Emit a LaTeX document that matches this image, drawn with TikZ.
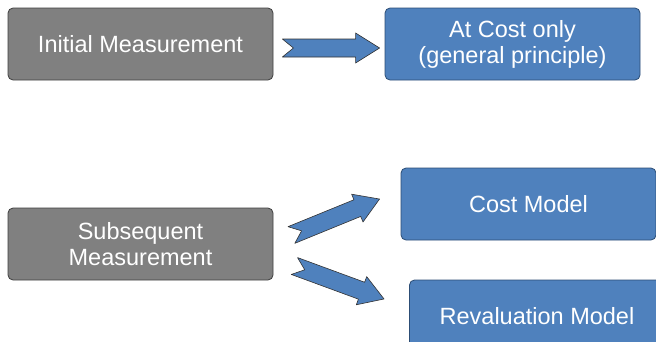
\documentclass[tikz,border=0pt]{standalone}
\usepackage{fontspec}
\setmainfont{Liberation Sans}
\usetikzlibrary{calc}

\definecolor{boxgray}{HTML}{808080}
\definecolor{boxblue}{HTML}{4F81BD}
\definecolor{edgegray}{HTML}{3F3F3F}
\definecolor{edgeblue}{HTML}{2C4D75}

% notched block arrow from #1 to #2
\newcommand{\fatarrow}[2]{%
  \draw[fat arrow] let \p1=($(#2)-(#1)$), \n1={atan2(\y1,\x1)}, \n2={veclen(\x1,\y1)} in
    [shift={(#1)},rotate=\n1]
    (0,9) -- (\n2-24,9) -- (\n2-24,15) -- (\n2,0) -- (\n2-24,-15) -- (\n2-24,-9)
    -- (0,-9) -- (11,0) -- cycle;}

\begin{document}
\begin{tikzpicture}
  [x=1pt,y=1pt,
   every node/.style={rounded corners=5pt, line width=0.8pt, text=white, align=center,
     minimum height=72pt, font=\fontsize{23.5}{26}\selectfont},
   grey box/.style={fill=boxgray, draw=edgegray, minimum width=265pt},
   blue box/.style={fill=boxblue, draw=edgeblue, minimum width=255pt},
   fat arrow/.style={fill=boxblue, draw=black!80, line width=0.6pt, line join=round}]
  \useasboundingbox (0,0) rectangle (656,-341);

  \node[grey box] (init)  at (140.5,-44)  {Initial Measurement};
  \node[blue box] (cost)  at (512.5,-44)  {At Cost only\\(general principle)};
  \node[grey box] (subs)  at (140.5,-244) {Subsequent\\Measurement};
  \node[blue box] (costm) at (528.5,-204) {Cost Model};
  \node[blue box] (reval) at (537,-316)   {Revaluation Model};

  \coordinate (a1from) at ($(init.east)+(9,-4)$);
  \coordinate (a1to)   at ($(cost.west)+(-5,-4)$);
  \coordinate (a2from) at ($(subs.east)+(18,9)$);
  \coordinate (a2to)   at ($(costm.west)+(-21,5)$);
  \coordinate (a3from) at ($(subs.east)+(21,-22)$);
  \coordinate (a3to)   at ($(reval.west)+(-25,17)$);

  \fatarrow{a1from}{a1to}
  \fatarrow{a2from}{a2to}
  \fatarrow{a3from}{a3to}
\end{tikzpicture}
\end{document}
